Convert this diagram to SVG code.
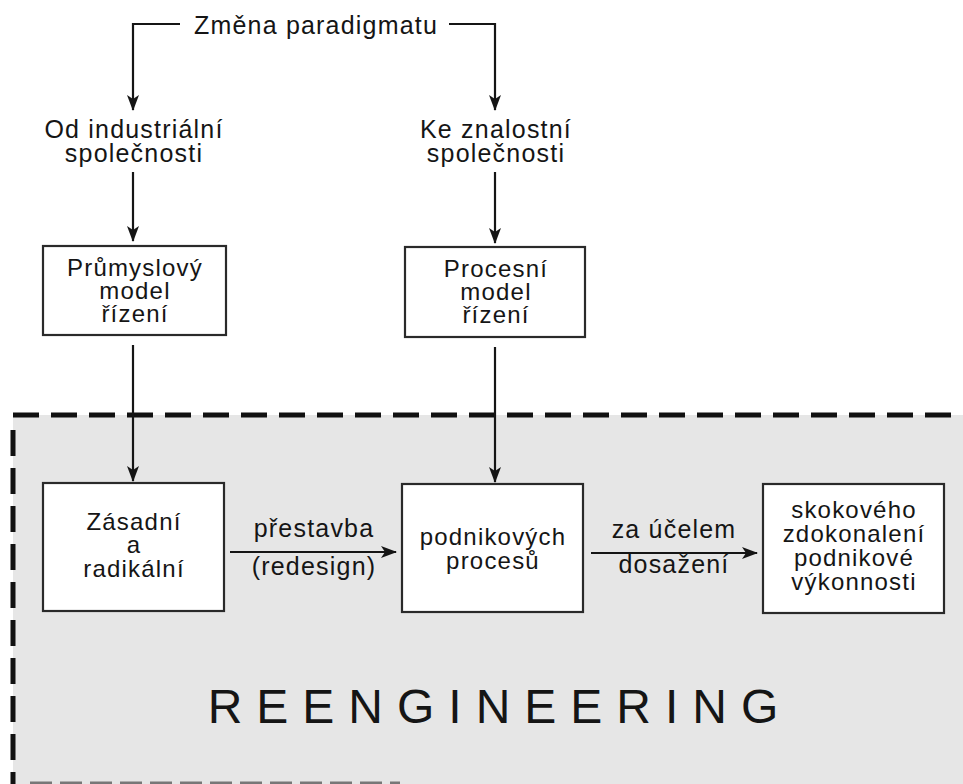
<svg xmlns="http://www.w3.org/2000/svg" width="963" height="784" viewBox="0 0 963 784">
<style>
text{font-family:"Liberation Sans",Arial,sans-serif;fill:#151515;text-anchor:middle;font-size:25px;letter-spacing:1.2px}
.bx{font-size:24px}
.box{fill:#fff;stroke:#2a2a2a;stroke-width:2.2}
.ln{fill:none;stroke:#151515;stroke-width:2.2}
.dash{fill:none;stroke:#111;stroke-width:5;stroke-dasharray:26 12}
.big{font-size:48px;letter-spacing:14px}
</style>
<defs>
<marker id="ah" viewBox="0 0 16 12" refX="15" refY="6" markerWidth="16" markerHeight="12" markerUnits="userSpaceOnUse" orient="auto">
<path d="M0,0 L16,6 L0,12 L4,6 Z" fill="#151515"/>
</marker>
</defs>
<g id="reengineering-area">
<rect x="13" y="415" width="960" height="380" fill="#e6e6e6"/>
<line class="dash" x1="13" y1="415" x2="963" y2="415"/>
<line class="dash" x1="13" y1="430" x2="13" y2="784" stroke-width="4" stroke-dasharray="26 16"/>
<line x1="30" y1="783" x2="400" y2="783" stroke="#777" stroke-width="3" stroke-dasharray="22 8"/>
<text class="big" x="500" y="723">REENGINEERING</text>
</g>
<g id="connectors">
<path class="ln" d="M180,24 H133 V110" marker-end="url(#ah)"/>
<path class="ln" d="M449,24 H495 V110" marker-end="url(#ah)"/>
<line class="ln" x1="133" y1="172" x2="133" y2="241" marker-end="url(#ah)"/>
<line class="ln" x1="495" y1="172" x2="495" y2="243" marker-end="url(#ah)"/>
<line class="ln" x1="133" y1="345" x2="133" y2="481" marker-end="url(#ah)"/>
<line class="ln" x1="495" y1="347" x2="495" y2="482" marker-end="url(#ah)"/>
<line class="ln" x1="230" y1="552" x2="396" y2="552" marker-end="url(#ah)"/>
<line class="ln" x1="591" y1="553" x2="757" y2="553" marker-end="url(#ah)"/>
<text x="314" y="537">přestavba</text>
<text x="314" y="575">(redesign)</text>
<text x="674" y="538">za účelem</text>
<text x="674" y="573">dosažení</text>
</g>
<g id="paradigm"><text x="316" y="34">Změna paradigmatu</text></g>
<g id="industrial"><text x="134" y="138">Od industriální</text><text x="134" y="162">společnosti</text></g>
<g id="knowledge"><text x="496" y="138">Ke znalostní</text><text x="496" y="162">společnosti</text></g>
<g id="industrial-model"><rect class="box" x="43" y="246" width="183" height="89"/>
<text class="bx" x="135" y="276">Průmyslový</text><text class="bx" x="135" y="299">model</text><text class="bx" x="135" y="322">řízení</text></g>
<g id="process-model"><rect class="box" x="405" y="247" width="180" height="90"/>
<text class="bx" x="496" y="277">Procesní</text><text class="bx" x="496" y="300">model</text><text class="bx" x="496" y="323">řízení</text></g>
<g id="fundamental"><rect class="box" x="43" y="483" width="181" height="128"/>
<text class="bx" x="134" y="530">Zásadní</text><text class="bx" x="134" y="553">a</text><text class="bx" x="134" y="577">radikální</text></g>
<g id="processes"><rect class="box" x="402" y="484" width="181" height="128"/>
<text class="bx" x="493" y="545">podnikových</text><text class="bx" x="493" y="569">procesů</text></g>
<g id="performance"><rect class="box" x="763" y="484" width="181" height="129"/>
<text class="bx" x="854" y="518">skokového</text><text class="bx" x="854" y="542">zdokonalení</text><text class="bx" x="854" y="566">podnikové</text><text class="bx" x="854" y="590">výkonnosti</text></g>
</svg>
